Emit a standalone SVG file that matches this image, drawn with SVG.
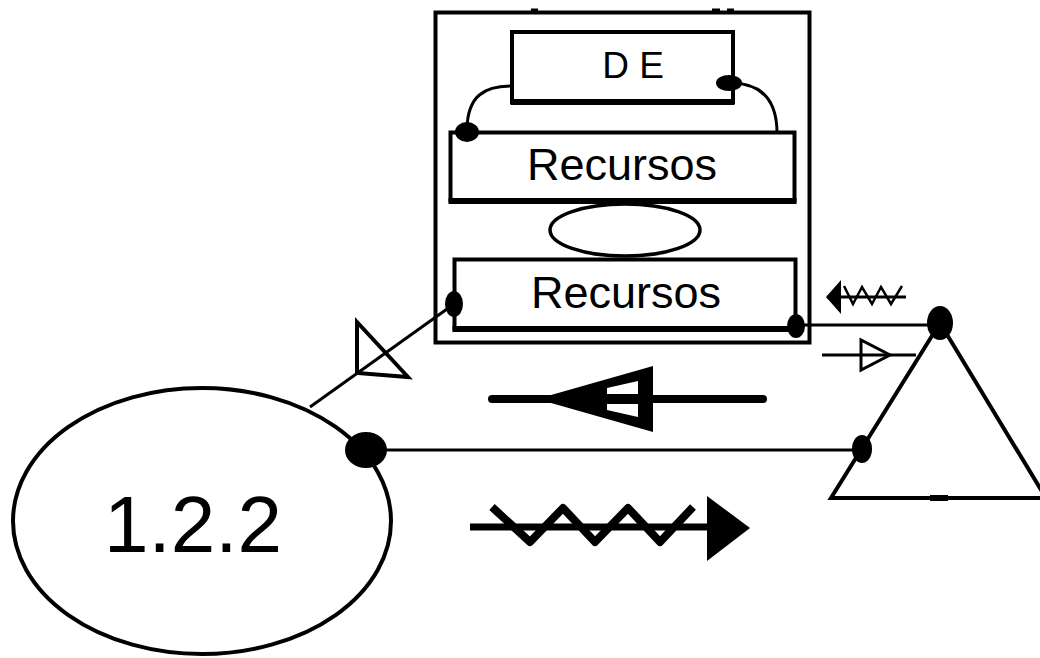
<svg xmlns="http://www.w3.org/2000/svg" width="1040" height="658" viewBox="0 0 1040 658">
  <style>
    .box { fill: #fff; stroke: #000; stroke-width: 4; }
    .line { fill: none; stroke: #000; stroke-width: 3; }
    .dot { fill: #000; }
    .label { font-family: "Liberation Sans", Arial, sans-serif; fill: #000; text-anchor: middle; }
  </style>

  <rect width="1040" height="658" fill="#fff"/>

  <!-- container holding the data entity and its resources -->
  <g id="node-container">
    <rect class="box" x="435.5" y="12.5" width="374" height="330"/>
    <rect x="531" y="8.5" width="7" height="3" fill="#000"/>
    <rect x="712" y="8.5" width="8" height="3" fill="#000"/>
    <rect x="727" y="8.5" width="7" height="3" fill="#000"/>
  </g>

  <g id="node-de">
    <rect class="box" x="512" y="32" width="221" height="70" stroke-width="3"/>
    <line x1="510.5" y1="102" x2="734.5" y2="102" stroke="#000" stroke-width="6"/>
    <text class="label" x="633" y="78" font-size="37">D E</text>
  </g>

  <g id="node-recursos-1">
    <rect class="box" x="450.5" y="132.5" width="344" height="68"/>
    <line x1="448.5" y1="201" x2="796.5" y2="201" stroke="#000" stroke-width="6"/>
    <text class="label" x="622" y="180" font-size="45">Recursos</text>
  </g>

  <g id="node-loop">
    <ellipse cx="625" cy="230" rx="75" ry="26" fill="#fff" stroke="#000" stroke-width="3.5"/>
  </g>

  <g id="node-recursos-2">
    <rect class="box" x="454.5" y="259.5" width="341" height="69"/>
    <line x1="452.5" y1="329" x2="797.5" y2="329" stroke="#000" stroke-width="6"/>
    <text class="label" x="626" y="308" font-size="45">Recursos</text>
  </g>

  <g id="node-process">
    <ellipse cx="202" cy="521" rx="189" ry="133" fill="#fff" stroke="#000" stroke-width="4"/>
    <text class="label" x="193" y="552" font-size="80">1.2.2</text>
  </g>

  <g id="node-store">
    <polygon points="940,323 831,498 1046,498" fill="#fff" stroke="#000" stroke-width="4" stroke-linejoin="miter"/>
    <rect x="930" y="495" width="18" height="6" fill="#000"/>
  </g>

  <!-- links between the nodes -->
  <g id="connectors">
    <path class="line" d="M512,86 C484,86 468,96 467,128"/>
    <path class="line" d="M733,83 C762,84 777,100 777,133"/>
    <line class="line" x1="454" y1="304" x2="310" y2="407"/>
    <polygon points="357,373 357,322 408,377" fill="none" stroke="#000" stroke-width="4" stroke-linejoin="miter"/>
    <line class="line" x1="796" y1="325" x2="940" y2="325"/>
    <line class="line" x1="366" y1="450" x2="862" y2="450"/>

    <ellipse class="dot" cx="729" cy="83" rx="13" ry="8"/>
    <ellipse class="dot" cx="467" cy="132" rx="12" ry="10"/>
    <ellipse class="dot" cx="454" cy="304" rx="9" ry="13"/>
    <ellipse class="dot" cx="796" cy="326" rx="9" ry="12"/>
    <ellipse class="dot" cx="940" cy="323" rx="13" ry="17"/>
    <ellipse class="dot" cx="862" cy="449" rx="10" ry="14"/>
    <ellipse class="dot" cx="366" cy="450" rx="21" ry="18"/>
  </g>

  <!-- free-standing flow symbols -->
  <g id="flow-symbols">
    <!-- small wavy arrow pointing left -->
    <line x1="827" y1="297" x2="906" y2="297" stroke="#000" stroke-width="3"/>
    <polygon points="826,297 841,280 841,314" fill="#000"/>
    <polyline points="902,286 891,304 881,287 872,304 862,287 853,304 844,286" fill="none" stroke="#000" stroke-width="2.5"/>

    <!-- small open-headed arrow -->
    <line x1="822" y1="355" x2="916" y2="355" stroke="#000" stroke-width="3"/>
    <polygon points="861,340 861,370 890,355" fill="none" stroke="#000" stroke-width="3"/>

    <!-- heavy arrow pointing left -->
    <polygon points="537,399 653,366 653,432" fill="#000"/>
    <polygon points="607,388 638,381 638,394 607,394" fill="#fff"/>
    <polygon points="607,404 638,404 638,417 607,410" fill="#fff"/>
    <line x1="492" y1="399" x2="763" y2="399" stroke="#000" stroke-width="8" stroke-linecap="round"/>

    <!-- wavy arrow pointing right -->
    <line x1="470" y1="527" x2="710" y2="527" stroke="#000" stroke-width="7"/>
    <polyline points="492,507 530,542 563,508 595,542 628,508 660,542 693,507" fill="none" stroke="#000" stroke-width="8" stroke-linejoin="round"/>
    <polygon points="707,496 750,528 707,561" fill="#000"/>
  </g>
</svg>
